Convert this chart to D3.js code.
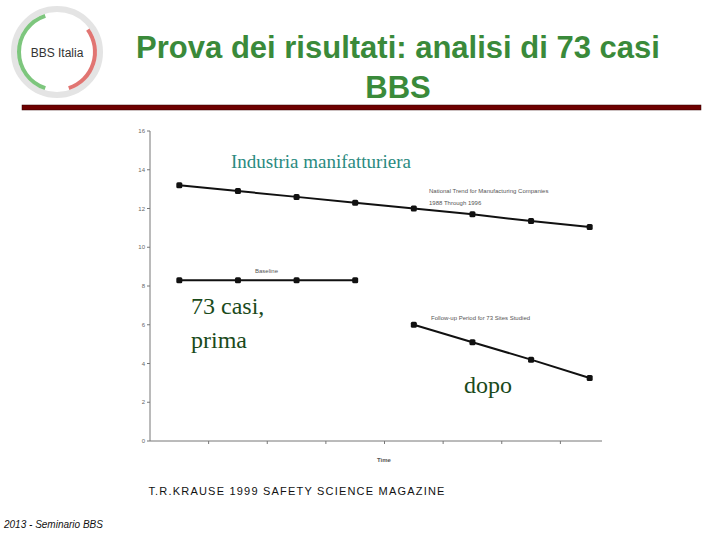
<!DOCTYPE html>
<html><head><meta charset="utf-8">
<script src="https://cdn.jsdelivr.net/npm/d3@7"></script>
<style>body{margin:0;background:#fff}</style></head>
<body><svg id="c" width="720" height="540"></svg>
<script>
const periods = [1,2,3,4,5,6,7,8];
const national = [13.2,12.9,12.6,12.3,12.0,11.7,11.35,11.05];
const baselinePeriods = [1,2,3,4];
const baseline = [8.3,8.3,8.3,8.3];
const followPeriods = [5,6,7,8];
const followup = [6.0,5.1,4.2,3.25];
const yTicks = [0,2,4,6,8,10,12,14,16];

const svg = d3.select("#c");
// logo
const lg = svg.append("g").attr("transform","translate(57,52)");
lg.append("circle").attr("r",43).attr("fill","none").attr("stroke","#e4e4e4").attr("stroke-width",6);
lg.append("path").attr("d",d3.arc()({innerRadius:36,outerRadius:40,startAngle:-Math.PI*0.9,endAngle:-Math.PI*0.1})).attr("fill","#5cb85c").attr("opacity",0.8);
lg.append("path").attr("d",d3.arc()({innerRadius:36,outerRadius:40,startAngle:Math.PI*0.3,endAngle:Math.PI*0.9})).attr("fill","#d9534f").attr("opacity",0.8);
lg.append("text").attr("text-anchor","middle").attr("y",5).attr("font-family","Liberation Sans,Arial").attr("font-size",12).attr("fill","#333").text("BBS Italia");

svg.append("text").attr("x",398).attr("y",58).attr("text-anchor","middle").attr("font-family","Liberation Sans,Arial").attr("font-weight","bold").attr("font-size",31).attr("fill","#3a8a3a").text("Prova dei risultati: analisi di 73 casi");
svg.append("text").attr("x",398).attr("y",98).attr("text-anchor","middle").attr("font-family","Liberation Sans,Arial").attr("font-weight","bold").attr("font-size",31).attr("fill","#3a8a3a").text("BBS");
svg.append("rect").attr("x",22).attr("y",105).attr("width",679).attr("height",5).attr("fill","#6e0000").attr("stroke","#300").attr("stroke-width",0.5);

const x = d3.scaleBand().domain(periods).range([150,619]);
const y = d3.scaleLinear().domain([0,16]).range([441,131]);
const cx = d => x(d)+x.bandwidth()/2;
const g = svg.append("g").attr("font-family","Liberation Sans,Arial");
g.append("line").attr("x1",150).attr("x2",150).attr("y1",131).attr("y2",441).attr("stroke","#777");
g.append("line").attr("x1",150).attr("x2",602).attr("y1",441).attr("y2",441).attr("stroke","#777");
yTicks.forEach(t=>{
  g.append("line").attr("x1",147).attr("x2",150).attr("y1",y(t)).attr("y2",y(t)).attr("stroke","#777");
  g.append("text").attr("x",145).attr("y",y(t)+2).attr("text-anchor","end").attr("font-size",6).attr("fill","#666").text(t);
});
periods.slice(1).forEach(p=>g.append("line").attr("x1",x(p)).attr("x2",x(p)).attr("y1",441).attr("y2",444).attr("stroke","#777"));
g.append("text").attr("x",384).attr("y",462).attr("text-anchor","middle").attr("font-size",6).attr("font-weight","bold").attr("fill","#555").text("Time");

function series(ps, vs){
  const line = d3.line().x((d,i)=>cx(ps[i])).y(d=>y(d));
  g.append("path").attr("d",line(vs)).attr("fill","none").attr("stroke","#111").attr("stroke-width",2);
  vs.forEach((v,i)=>g.append("rect").attr("x",cx(ps[i])-3).attr("y",y(v)-3).attr("width",6).attr("height",6).attr("rx",1.5).attr("fill","#111"));
}
series(periods,national);
series(baselinePeriods,baseline);
series(followPeriods,followup);

g.append("text").attr("x",429).attr("y",193).attr("font-size",6).attr("fill","#555").text("National Trend for Manufacturing Companies");
g.append("text").attr("x",429).attr("y",205).attr("font-size",6).attr("fill","#555").text("1988 Through 1996");
g.append("text").attr("x",255).attr("y",273).attr("font-size",6).attr("fill","#555").text("Baseline");
g.append("text").attr("x",431).attr("y",320).attr("font-size",6).attr("fill","#555").text("Follow-up Period for 73 Sites Studied");

const serif = "Liberation Serif,Times New Roman,serif";
svg.append("text").attr("x",231).attr("y",168).attr("font-family",serif).attr("font-size",19).attr("fill","#2a8a80").text("Industria manifatturiera");
svg.append("text").attr("x",191).attr("y",314).attr("font-family",serif).attr("font-size",24).attr("fill","#1a4a1a").text("73 casi,");
svg.append("text").attr("x",191).attr("y",348).attr("font-family",serif).attr("font-size",24).attr("fill","#1a4a1a").text("prima");
svg.append("text").attr("x",464).attr("y",393).attr("font-family",serif).attr("font-size",24).attr("fill","#1a4a1a").text("dopo");
svg.append("text").attr("x",297).attr("y",495).attr("text-anchor","middle").attr("font-family","Liberation Sans,Arial").attr("font-size",11).attr("letter-spacing",1.2).attr("fill","#111").text("T.R.KRAUSE 1999 SAFETY SCIENCE MAGAZINE");
svg.append("text").attr("x",4).attr("y",528).attr("font-family","Liberation Sans,Arial").attr("font-style","italic").attr("font-size",10).attr("fill","#111").text("2013 - Seminario BBS");
</script></body></html>
